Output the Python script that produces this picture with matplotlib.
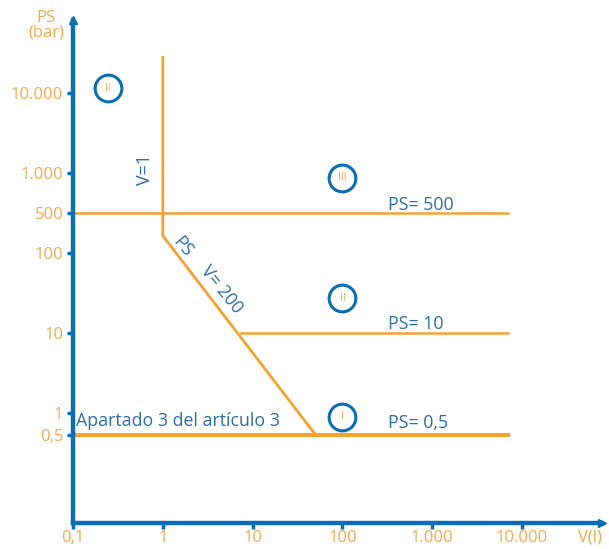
import numpy as np
import matplotlib
matplotlib.use("Agg")
import matplotlib.pyplot as plt

plt.rcParams['font.family'] = ['Open Sans', 'DejaVu Sans']

# ---- data ----
x_ticks = [0.1, 1, 10, 100, 1000, 10000]
x_labels = ['0,1', '1', '10', '100', '1.000', '10.000']
y_ticks = [0.5, 1, 10, 100, 500, 1000, 10000]
y_labels = ['0,5', '1', '10', '100', '500', '1.000', '10.000']

# boundary polyline V=1 then PS*V=200 diagonal
bound_v = [1, 1, 50]
bound_ps = [28000, 200, 0.5]
# horizontal limits
h500_v = [0.1, 7000]
h500_ps = [500, 500]
h10_v = [7.5, 7000]
h10_ps = [10, 10]
h05_v = [0.1, 7000]
h05_ps = [0.5, 0.5]

categories = ['II', 'III', 'II', 'I']
cat_v = [0.245, 100, 100, 100]
cat_ps = [11500, 920, 27, 0.89]

# ---- schematic y scale (tick positions are not strictly logarithmic) ----
knot_log = np.array([-3.0, np.log10(0.5), 0.0, 1.0, 2.0, np.log10(500), 3.0, 4.0, 7.0])
knot_pos = np.array([-0.27 - (3.0 + np.log10(0.5)), -0.27, 0.0, 1.0, 2.0, 2.5, 3.0, 4.0, 7.0])

def fwd(v):
    v = np.asarray(v, dtype=float)
    with np.errstate(divide='ignore', invalid='ignore'):
        lv = np.log10(np.clip(v, 1e-3, None))
    return np.interp(lv, knot_log, knot_pos)

def inv(p):
    return 10 ** np.interp(np.asarray(p, dtype=float), knot_pos, knot_log)

ORANGE = '#F5A230'
LABEL_OR = '#F3A94E'
BLUE = '#0B6DB4'
TXT_BLUE = '#2E6DA8'

fig = plt.figure(figsize=(6.09, 5.49), dpi=100)
ax = fig.add_axes([73/609, 1 - 523/549, (602 - 73)/609, (523 - 20)/549])
ax.set_xscale('log')
ax.set_yscale('function', functions=(fwd, inv))
ax.set_xlim(0.1, 10 ** 4.89)
ax.set_ylim(inv(-1.375), inv(4.9125))

ax.plot(bound_v, bound_ps, color=ORANGE, lw=2.0, solid_joinstyle='miter')
ax.plot(h500_v, h500_ps, color=ORANGE, lw=1.8)
ax.plot(h10_v, h10_ps, color=ORANGE, lw=1.8)
ax.plot(h05_v, h05_ps, color=ORANGE, lw=3.0)

for s in ['top', 'right']:
    ax.spines[s].set_visible(False)
for s in ['left', 'bottom']:
    ax.spines[s].set_color(BLUE)
    ax.spines[s].set_linewidth(3.2)
ax.plot(1, 0, '>', transform=ax.transAxes, clip_on=False, color=BLUE, ms=6)
ax.plot(0, 1, '^', transform=ax.transAxes, clip_on=False, color=BLUE, ms=6)

ax.set_xticks(x_ticks)
ax.set_xticklabels(x_labels)
ax.set_yticks(y_ticks)
ax.set_yticklabels(y_labels)
ax.minorticks_off()
ax.tick_params(axis='both', colors=BLUE, labelcolor=LABEL_OR, labelsize=12,
               length=4, width=2.5, direction='out')
ax.tick_params(axis='x', pad=1)
ax.tick_params(axis='y', pad=3)

# circled roman numerals
ax.scatter(cat_v, cat_ps, s=370, facecolor='white', edgecolor=BLUE, linewidth=2.2, zorder=5)
for v, p, c in zip(cat_v, cat_ps, categories):
    ax.text(v, p, c, color=LABEL_OR, fontsize=7.5, ha='center', va='center', zorder=6)

fs = 12.8
ax.text(0.63, 1100, 'V=1', rotation=90, color=TXT_BLUE, fontsize=fs, ha='center', va='center')
ax.text(1.67, 127, 'PS', rotation=-51, color=TXT_BLUE, fontsize=fs, ha='center', va='center',
        rotation_mode='anchor')
ax.text(4.5, 35, 'V= 200', rotation=-51, color=TXT_BLUE, fontsize=fs, ha='center', va='center',
        rotation_mode='anchor')
ax.text(0.108, 0.77, 'Apartado 3 del artículo 3', color=TXT_BLUE, fontsize=fs, ha='left', va='center')
ax.text(325, 575, 'PS= 500', color=TXT_BLUE, fontsize=fs, ha='left', va='center')
ax.text(325, 13, 'PS= 10', color=TXT_BLUE, fontsize=fs, ha='left', va='center')
ax.text(325, 0.73, 'PS= 0,5', color=TXT_BLUE, fontsize=fs, ha='left', va='center')

fig.text(46/609, 1 - 25/549, 'PS\n(bar)', color=LABEL_OR, fontsize=12, ha='center', va='center',
         linespacing=0.9)
fig.text(590/609, 1 - 537/549, 'V(l)', color=LABEL_OR, fontsize=12, ha='center', va='center')

fig.savefig('out.png', dpi=100)
